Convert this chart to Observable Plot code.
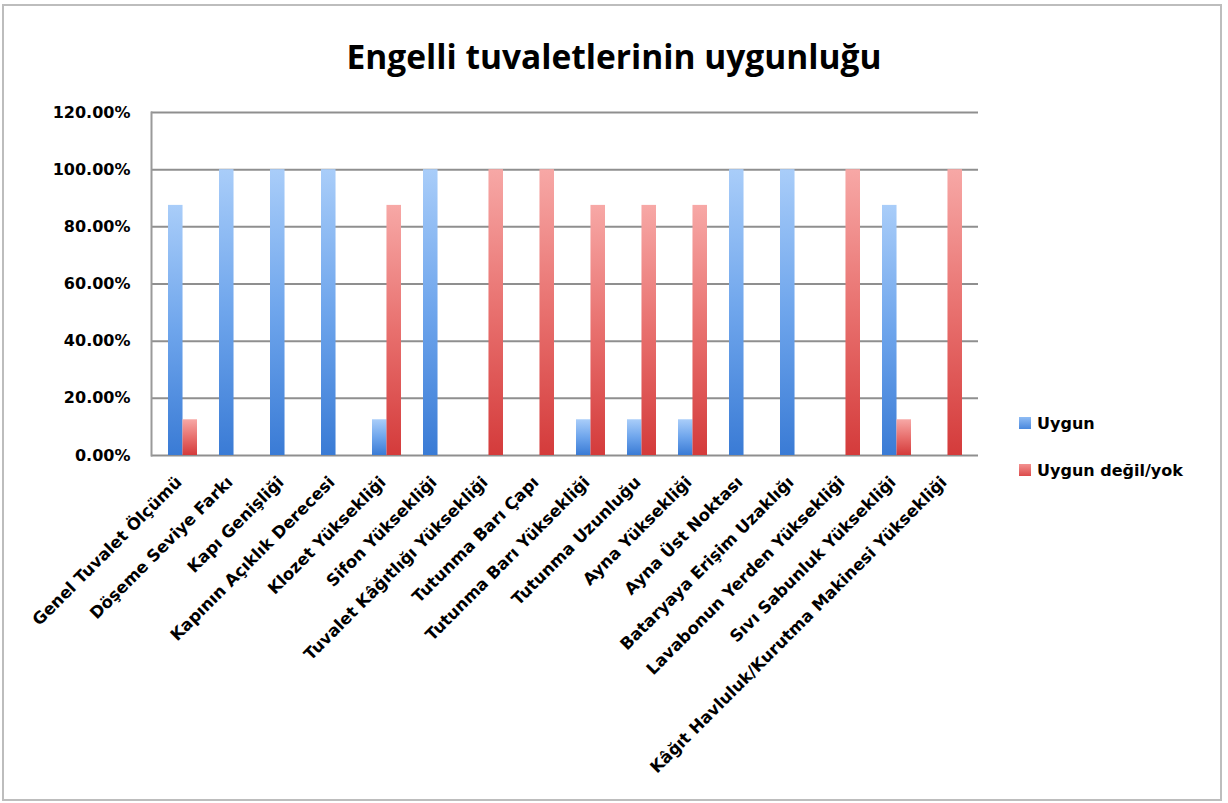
<!DOCTYPE html>
<html><head><meta charset="utf-8">
<script src="https://cdn.jsdelivr.net/npm/d3@7"></script>
<script src="https://cdn.jsdelivr.net/npm/@observablehq/plot@0.6"></script>
<style>
html,body{margin:0;padding:0;background:#fff;}
#chart{position:relative;width:1228px;height:803px;overflow:hidden;font-family:"DejaVu Sans",sans-serif;}
.border{position:absolute;left:2px;top:4px;width:1220px;height:797px;box-sizing:border-box;border:2px solid #bdbdbd;}
.title{position:absolute;left:0;top:33px;width:1228px;text-align:center;font-family:"Open Sans",sans-serif;font-weight:700;font-size:33.5px;line-height:46px;color:#000;}
#plot{position:absolute;left:0;top:0;}
.legend{position:absolute;left:1019px;top:413px;font-family:"DejaVu Sans",sans-serif;font-weight:700;font-size:16px;color:#000;}
.legend .item{display:flex;align-items:center;height:20px;margin-bottom:27px;}
.legend .sw{width:12px;height:12px;margin-right:6px;}
</style></head>
<body>
<div id="chart">
  <div class="border"></div>
  <div class="title" id="title"></div>
  <div id="plot"></div>
  <div class="legend" id="legend"></div>
</div>
<script>
const title = "Engelli tuvaletlerinin uygunluğu";
const categories = [
  "Genel Tuvalet Ölçümü",
  "Döşeme Seviye Farkı",
  "Kapı Genişliği",
  "Kapının Açıklık Derecesi",
  "Klozet Yüksekliği",
  "Sifon Yüksekliği",
  "Tuvalet Kâğıtlığı Yüksekliği",
  "Tutunma Barı Çapı",
  "Tutunma Barı Yüksekliği",
  "Tutunma Uzunluğu",
  "Ayna Yüksekliği",
  "Ayna Üst Noktası",
  "Bataryaya Erişim Uzaklığı",
  "Lavabonun Yerden Yüksekliği",
  "Sıvı Sabunluk Yüksekliği",
  "Kâğıt Havluluk/Kurutma Makinesi Yüksekliği"
];
const uygun =      [0.875, 1, 1, 1, 0.125, 1, 0, 0, 0.125, 0.125, 0.125, 1, 1, 0, 0.875, 0];
const uygunDegil = [0.125, 0, 0, 0, 0.875, 0, 1, 1, 0.875, 0.875, 0.875, 0, 0, 1, 0.125, 1];
const seriesNames = ["Uygun", "Uygun değil/yok"];
const yTicks = [0, 0.2, 0.4, 0.6, 0.8, 1.0, 1.2];

const data = categories.flatMap((c, i) => [
  {category: c, series: seriesNames[0], value: uygun[i]},
  {category: c, series: seriesNames[1], value: uygunDegil[i]}
]);

document.getElementById("title").textContent = title;

const W = 1228, H = 803;
const mL = 151, mR = 250, mT = 112, mB = 348;
const padInner = 0.44;
const step = (W - mL - mR) / categories.length;
const half = step * (1 - padInner) / 2;

const plot = Plot.plot({
  width: W, height: H,
  marginLeft: mL, marginRight: mR, marginTop: mT, marginBottom: mB,
  style: {fontFamily: "DejaVu Sans, sans-serif", fontSize: "16px", fontWeight: "bold", color: "#000", background: "transparent"},
  x: {domain: categories, paddingInner: padInner, paddingOuter: padInner / 2, label: null},
  y: {domain: [0, 1.2], label: null},
  marks: [
    Plot.gridY(yTicks, {stroke: "#8f8f8f", strokeOpacity: 1, strokeWidth: 2}),
    Plot.frame({anchor: "left", stroke: "#9a9a9a", strokeWidth: 2}),
    Plot.barY(data.filter(d => d.series === seriesNames[0]), {x: "category", y: "value", fill: "url(#gBlue)", insetRight: half}),
    Plot.barY(data.filter(d => d.series === seriesNames[1]), {x: "category", y: "value", fill: "url(#gRed)", insetLeft: half}),
    Plot.axisY(yTicks, {tickFormat: d3.format(".2%"), tickSize: 0, tickPadding: 21, fontSize: 16, fontWeight: "bold"}),
    Plot.axisX({tickSize: 0, tickPadding: 24, dx: -4, tickRotate: -45, fontSize: 16.5, fontWeight: "bold"})
  ]
});

plot.insertAdjacentHTML("afterbegin", `<defs>
<linearGradient id="gBlue" x1="0" y1="0" x2="0" y2="1">
<stop offset="0" stop-color="#a9cdf9"/><stop offset="0.5" stop-color="#6ea5ec"/><stop offset="1" stop-color="#3a7bd5"/>
</linearGradient>
<linearGradient id="gRed" x1="0" y1="0" x2="0" y2="1">
<stop offset="0" stop-color="#f7a8a6"/><stop offset="0.5" stop-color="#e8706e"/><stop offset="1" stop-color="#d43b3b"/>
</linearGradient></defs>`);
document.getElementById("plot").appendChild(plot);

const legend = document.getElementById("legend");
seriesNames.forEach((s, i) => {
  const item = document.createElement("div");
  item.className = "item";
  const sw = document.createElement("div");
  sw.className = "sw";
  sw.style.background = `linear-gradient(${i === 0 ? "#8fbcf4,#4a88dd" : "#f39190,#dc4b4b"})`;
  const t = document.createElement("span");
  t.textContent = s;
  item.appendChild(sw); item.appendChild(t);
  legend.appendChild(item);
});
</script>
</body></html>
